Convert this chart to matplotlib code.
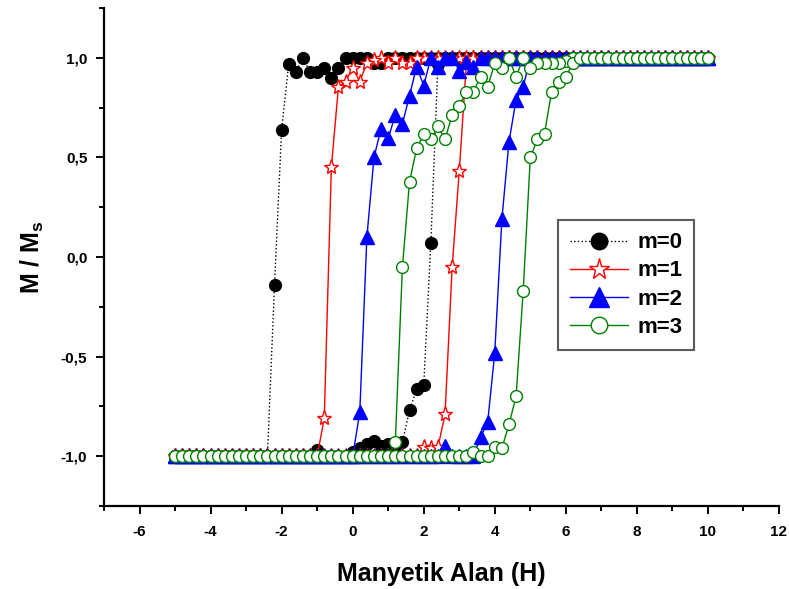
import matplotlib
matplotlib.use("Agg")
import matplotlib.pyplot as plt
from matplotlib.ticker import FixedLocator, FuncFormatter

plt.rcParams['font.family'] = ['Liberation Sans', 'DejaVu Sans']
plt.rcParams['font.weight'] = 'bold'
plt.rcParams['mathtext.fontset'] = 'custom'
plt.rcParams['mathtext.rm'] = 'Liberation Sans:bold'
plt.rcParams['mathtext.bf'] = 'Liberation Sans:bold'
plt.rcParams['mathtext.it'] = 'Liberation Sans:bold'

# Applied field grid (sweep from -5 to 10)
H = [-5.0, -4.8, -4.6, -4.4, -4.2, -4.0, -3.8, -3.6, -3.4, -3.2,
     -3.0, -2.8, -2.6, -2.4, -2.2, -2.0, -1.8, -1.6, -1.4, -1.2,
     -1.0, -0.8, -0.6, -0.4, -0.2, 0.0, 0.2, 0.4, 0.6, 0.8,
     1.0, 1.2, 1.4, 1.6, 1.8, 2.0, 2.2, 2.4, 2.6, 2.8,
     3.0, 3.2, 3.4, 3.6, 3.8, 4.0, 4.2, 4.4, 4.6, 4.8,
     5.0, 5.2, 5.4, 5.6, 5.8, 6.0, 6.2, 6.4, 6.6, 6.8,
     7.0, 7.2, 7.4, 7.6, 7.8, 8.0, 8.2, 8.4, 8.6, 8.8,
     9.0, 9.2, 9.4, 9.6, 9.8, 10.0]

# m=0 : upper (decreasing field) and lower (increasing field) branches, listed along H
m0_upper = ([-1.0] * 14 +
            [-0.14, 0.64, 0.97, 0.93, 1.0, 0.93, 0.93, 0.95, 0.90, 0.95, 1.0, 1.0,
             1.0, 1.0, 0.975, 0.975] +
            [1.0] * 46)
m0_lower = ([-1.0] * 20 +
            [-0.97, -1.0, -1.0, -1.0, -1.0, -0.98, -0.96, -0.94, -0.925, -0.95,
             -0.94, -0.95, -0.93, -0.77, -0.665, -0.645, 0.07, 0.97] +
            [1.0] * 38)

# m=1
m1_upper = ([-1.0] * 21 +
            [-0.81, 0.45, 0.855, 0.88, 0.95, 0.88, 0.975, 0.99, 1.0, 0.975,
             1.0, 0.975, 0.975] +
            [1.0] * 42)
m1_lower = ([-1.0] * 35 +
            [-0.955, -0.96, -0.955, -0.79, -0.05, 0.43, 0.97] +
            [1.0] * 34)

# m=2
m2_upper = ([-1.0] * 26 +
            [-0.78, 0.10, 0.50, 0.645, 0.595, 0.713, 0.668, 0.81, 0.956, 0.86,
             1.0, 0.956, 1.0, 1.0, 0.936, 0.98, 0.956] +
            [1.0] * 33)
m2_lower = ([-1.0] * 38 +
            [-0.95, -1.0, -1.0, -1.0, -1.0, -0.905, -0.83, -0.48, 0.19, 0.578,
             0.79, 0.855] +
            [1.0] * 26)

# m=3
m3_upper = ([-1.0] * 31 +
            [-0.93, -0.05, 0.377, 0.545, 0.617, 0.59, 0.66, 0.59, 0.713, 0.76,
             0.83, 0.83, 0.906, 0.855, 0.973, 0.948, 1.0, 0.903, 1.0, 0.948,
             0.973, 0.973, 0.973, 0.973, 0.985] +
            [1.0] * 20)
m3_lower = ([-1.0] * 42 +
            [-0.98, -1.0, -1.0, -0.955, -0.96, -0.84, -0.70, -0.17, 0.50, 0.59,
             0.62, 0.83, 0.88, 0.906, 0.973] +
            [1.0] * 19)

labels = ['m=0', 'm=1', 'm=2', 'm=3']
x_ticks = [-6, -4, -2, 0, 2, 4, 6, 8, 10, 12]
y_ticks = [-1.0, -0.5, 0.0, 0.5, 1.0]

fig = plt.figure(figsize=(7.89, 5.89), dpi=100)
ax = fig.add_axes([0.1318, 0.1409, 0.8555, 0.8455])

def loop(upper, lower):
    xs = H[::-1] + H
    ys = upper[::-1] + lower
    return xs, ys

styles = [
    dict(color='black', ls=':', lw=1.0, marker='o', ms=8.5, mfc='black', mec='black'),
    dict(color='red', ls='-', lw=1.0, marker='*', ms=11, mfc='white', mec='red', mew=1.0),
    dict(color='blue', ls='-', lw=1.0, marker='^', ms=10, mfc='blue', mec='blue'),
    dict(color='green', ls='-', lw=1.0, marker='o', ms=8.5, mfc='white', mec='green', mew=1.0),
]
series = [(m0_upper, m0_lower), (m1_upper, m1_lower), (m2_upper, m2_lower), (m3_upper, m3_lower)]
for (up, lo), st, lab in zip(series, styles, labels):
    xs, ys = loop(up, lo)
    ax.plot(xs, ys, label=lab, **st)

ax.set_xlim(-7, 12)
ax.set_ylim(-1.25, 1.25)
ax.xaxis.set_major_locator(FixedLocator(x_ticks))
ax.xaxis.set_minor_locator(FixedLocator([-7, -5, -3, -1, 1, 3, 5, 7, 9, 11]))
ax.yaxis.set_major_locator(FixedLocator(y_ticks))
ax.yaxis.set_minor_locator(FixedLocator([-1.25, -0.75, -0.25, 0.25, 0.75, 1.25]))
ax.xaxis.set_major_formatter(FuncFormatter(lambda v, p: ('%d' % v).replace('\u2212', '-')))
ax.yaxis.set_major_formatter(FuncFormatter(lambda v, p: ('%.1f' % v).replace('.', ',')))

for s in ['top', 'right']:
    ax.spines[s].set_visible(False)
for s in ['left', 'bottom']:
    ax.spines[s].set_linewidth(1.6)

ax.tick_params(axis='both', which='major', direction='out', length=6, width=1.4,
               labelsize=11)
ax.tick_params(axis='both', which='minor', direction='out', length=3.5, width=1.4)
ax.tick_params(axis='x', which='major', pad=8)
ax.tick_params(axis='y', which='major', pad=6)
for lab in ax.get_xticklabels() + ax.get_yticklabels():
    lab.set_fontweight('bold')

ax.set_xlabel('Manyetik Alan (H)', fontsize=18, fontweight='bold', labelpad=16)
ax.set_ylabel(r'M / M$_{\mathrm{s}}$', fontsize=18, fontweight='bold', labelpad=11)

leg = ax.legend(loc='upper left', bbox_to_anchor=(0.673, 0.574),
                prop={'weight': 'bold', 'size': 16}, frameon=True, fancybox=False,
                markerscale=1.4, handlelength=2.6, handletextpad=0.4,
                labelspacing=0.32, borderpad=0.55, borderaxespad=0.0)
leg.get_frame().set_edgecolor('#333333')
leg.get_frame().set_linewidth(1.5)

fig.savefig('out.png', dpi=100)
